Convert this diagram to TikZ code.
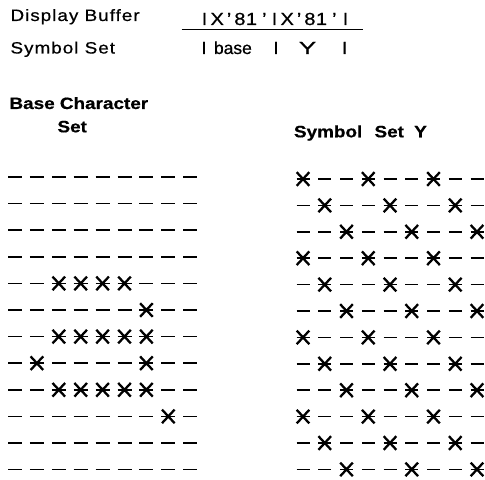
\documentclass[tikz,border=0pt]{standalone}
\usepackage{fontspec}
\setmainfont{Liberation Sans}[FakeStretch=1.15,FakeBold=0.6]
\newfontfamily\spc{Liberation Sans}[FakeStretch=1.15,LetterSpace=6,FakeBold=0.6]
\newfontfamily\nst{Liberation Sans}[FakeBold=0.6]
\newcommand\hexq{X\kern3bp'\kern3bp8\kern0.5bp1\kern5bp'}
\begin{document}
\begin{tikzpicture}[x=1bp,y=-1bp,
  txt/.style={inner sep=0pt, outer sep=0pt, font=\fontsize{16.5}{19}\selectfont},
  big/.style={txt, font=\fontsize{17.5}{20}\selectfont},
  hd/.style={txt, font=\fontsize{16.5}{19}\selectfont\bfseries, anchor=base west},
  dashl/.style={line width=1.5bp},
  starl/.style={line width=2.3bp},
  xstar/.pic={\draw[starl] (-6.3,-6.8) -- (6.3,6.8) (-6.3,6.8) -- (6.3,-6.8);}]
\useasboundingbox (0,0) rectangle (485,480);
% header lines
\node[txt,anchor=base west] (db) at (10.5,21) {\spc Display Buffer};
\node[txt,anchor=base west] (ss) at (10.5,53.5) {\spc Symbol Set};
\node[big,anchor=base] (b1) at (204.5,25) {I};
\node[big,anchor=base west] (x1) at (210.5,25) {\hexq};
\node[big,anchor=base] (b2) at (274.5,25) {I};
\node[big,anchor=base west] (x2) at (280.5,25) {\hexq};
\node[big,anchor=base] (b3) at (345.5,25) {I};
\draw[line width=1.3bp] (181.7,29.3) -- (363.3,29.3);
\node[big,anchor=base] (c1) at (204,54) {I};
\node[big,anchor=base west] (bs) at (214,54) {\nst base};
\node[big,anchor=base] (c2) at (276,54) {I};
\node[big,anchor=base] (yy) at (307.5,54) {\scalebox{1.3}[1]{Y}};
\node[big,anchor=base] (c3) at (344.7,54) {I};
% headings
\node[hd] (bc) at (9.5,109) {Base Character};
\node[hd] (bset) at (57.5,132.3) {Set};
\node[hd] (sy) at (294,137.3) {Symbol\hspace{7bp} Set\hspace{5bp} Y};
% left grid
\foreach \r in {0,...,11}{
  \foreach \c in {0,...,8}{
    \draw[dashl] ({15+21.9*\c-7},{177+26.6*\r}) -- ++(14,0);
  }
}
\foreach \c/\r in {2/4,3/4,4/4,5/4,6/5,2/6,3/6,4/6,5/6,6/6,1/7,6/7,2/8,3/8,4/8,5/8,6/8,7/9}{
  \pic at ({15+21.9*\c},{177+26.6*\r}) {xstar};
}
% right grid
\foreach \r in {0,...,11}{
  \foreach \c in {0,...,8}{
    \draw[dashl] ({303+21.75*\c-6.5},{179+26.4*\r}) -- ++(13,0);
    \pgfmathtruncatemacro{\m}{mod(\c-\r+12,3)}
    \ifnum\m=0
      \pic at ({303+21.75*\c},{179+26.4*\r}) {xstar};
    \fi
  }
}
\end{tikzpicture}
\end{document}
